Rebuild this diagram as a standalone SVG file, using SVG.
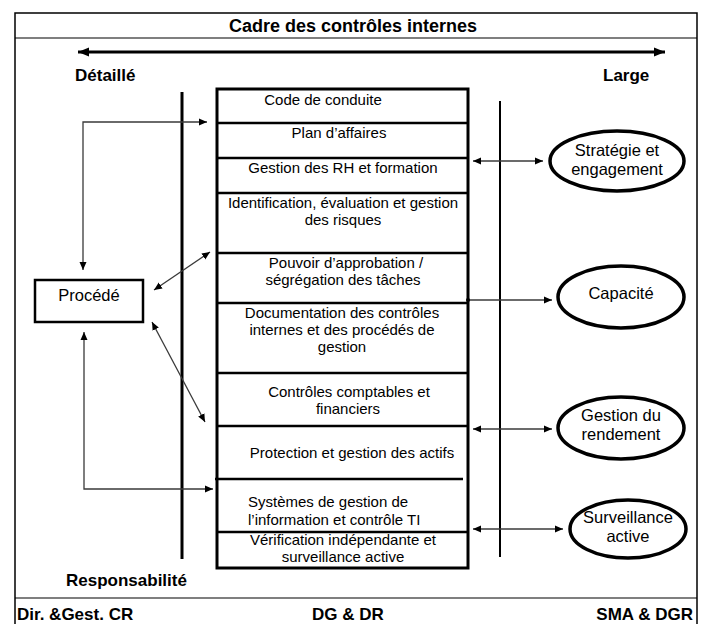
<svg xmlns="http://www.w3.org/2000/svg" width="711" height="624" viewBox="0 0 711 624">
<style>
text{font-family:"Liberation Sans",Arial,sans-serif;fill:#000}
.b{font-weight:bold;font-size:17px}
.t{font-size:15px;text-anchor:middle}
.e{font-size:16.5px;text-anchor:middle}
.sep{stroke:#000;stroke-width:2.5}
.c{fill:none;stroke:#3a3a3a;stroke-width:1.3}
.ell{fill:#fff;stroke:#000;stroke-width:3.5}
</style>
<defs>
<marker id="a" markerUnits="userSpaceOnUse" markerWidth="9" markerHeight="8" refX="8" refY="4" orient="auto-start-reverse"><path d="M0,0.5 L8,4 L0,7.5 Z" fill="#000"/></marker>
<marker id="big" markerUnits="userSpaceOnUse" markerWidth="12" markerHeight="10" refX="11" refY="5" orient="auto-start-reverse"><path d="M0,0.5 L11,5 L0,9.5 Z" fill="#000"/></marker>
<marker id="dot" markerUnits="userSpaceOnUse" markerWidth="6" markerHeight="6" refX="3" refY="3"><circle cx="3" cy="3" r="2" fill="#000"/></marker>
</defs>
<g id="frame">
<path d="M15,624 V13 H697 V624" fill="none" stroke="#000" stroke-width="1.5"/>
<line x1="15" y1="38" x2="697" y2="38" stroke="#000" stroke-width="1.2"/>
<line x1="15" y1="598" x2="697" y2="598" stroke="#000" stroke-width="1.2"/>
<text x="353" y="32" class="b" font-size="18" text-anchor="middle" style="font-size:18px">Cadre des contrôles internes</text>
<line x1="78" y1="52" x2="665" y2="52" stroke="#000" stroke-width="3" marker-start="url(#big)" marker-end="url(#big)"/>
<text x="75" y="81" class="b">Détaillé</text>
<text x="603" y="81" class="b">Large</text>
<text x="66" y="586" class="b">Responsabilité</text>
<text x="17" y="620" class="b">Dir. &amp;Gest. CR</text>
<text x="312" y="620" class="b">DG &amp; DR</text>
<text x="693" y="620" class="b" text-anchor="end">SMA &amp; DGR</text>
<line x1="182" y1="92" x2="182" y2="559" stroke="#000" stroke-width="3"/>
<line x1="500" y1="101" x2="500" y2="557" stroke="#000" stroke-width="2"/>
</g>
<g id="controls">
<rect x="217" y="89" width="251" height="479" fill="none" stroke="#000" stroke-width="3"/>
<line class="sep" x1="217" y1="123" x2="468" y2="123"/>
<line class="sep" x1="217" y1="158" x2="468" y2="158"/>
<line class="sep" x1="217" y1="193" x2="468" y2="193"/>
<line class="sep" x1="217" y1="253" x2="468" y2="253"/>
<line class="sep" x1="217" y1="303" x2="468" y2="303"/>
<line class="sep" x1="217" y1="373" x2="468" y2="373"/>
<line class="sep" x1="217" y1="426" x2="468" y2="426"/>
<line class="sep" x1="215" y1="479" x2="463" y2="479"/>
<line class="sep" x1="217" y1="532" x2="468" y2="532"/>
<text class="t" x="323" y="105">Code de conduite</text>
<text class="t" x="339" y="138">Plan d’affaires</text>
<text class="t" x="343" y="173">Gestion des RH et formation</text>
<text class="t" x="343" y="208">Identification, évaluation et gestion</text>
<text class="t" x="343" y="225">des risques</text>
<text class="t" x="346" y="268">Pouvoir d’approbation /</text>
<text class="t" x="343" y="285">ségrégation des tâches</text>
<text class="t" x="342" y="318">Documentation des contrôles</text>
<text class="t" x="342" y="335">internes et des procédés de</text>
<text class="t" x="342" y="352">gestion</text>
<text class="t" x="349" y="397">Contrôles comptables et</text>
<text class="t" x="348" y="414">financiers</text>
<text class="t" x="352" y="458">Protection et gestion des actifs</text>
<text x="248" y="507" style="font-size:15px">Systèmes de gestion de</text>
<text x="248" y="525" style="font-size:15px">l’information et contrôle TI</text>
<text class="t" x="343" y="545">Vérification indépendante et</text>
<text class="t" x="343" y="562">surveillance active</text>
</g>
<g id="procede">
<rect x="35" y="280" width="108" height="42" fill="#fff" stroke="#000" stroke-width="2.5"/>
<text x="89" y="301" text-anchor="middle" style="font-size:16.5px">Procédé</text>
</g>
<g id="strategie">
<ellipse class="ell" cx="617" cy="161" rx="67" ry="30"/>
<text class="e" x="617" y="156">Stratégie et</text>
<text class="e" x="617" y="175">engagement</text>
</g>
<g id="capacite">
<ellipse class="ell" cx="621" cy="297" rx="63" ry="31"/>
<text class="e" x="621" y="299">Capacité</text>
</g>
<g id="rendement">
<ellipse class="ell" cx="621" cy="428" rx="63" ry="31"/>
<text class="e" x="621" y="421">Gestion du</text>
<text class="e" x="621" y="440">rendement</text>
</g>
<g id="surveillance">
<ellipse class="ell" cx="628" cy="529" rx="58" ry="29"/>
<text class="e" x="628" y="523">Surveillance</text>
<text class="e" x="628" y="542">active</text>
</g>
<g id="connectors">
<polyline class="c" points="83,270 83,122 207,122" marker-start="url(#a)" marker-end="url(#a)"/>
<line class="c" x1="154" y1="290" x2="210" y2="252" marker-start="url(#a)" marker-end="url(#a)"/>
<line class="c" x1="152" y1="322" x2="205" y2="422" marker-start="url(#a)" marker-end="url(#a)"/>
<polyline class="c" points="84,332 84,489 213,489" marker-start="url(#a)" marker-end="url(#a)"/>
<line class="c" x1="473" y1="161" x2="543" y2="161" marker-start="url(#a)" marker-end="url(#a)"/>
<line class="c" x1="468" y1="300" x2="552" y2="300" marker-start="url(#dot)" marker-end="url(#a)"/>
<line class="c" x1="473" y1="429" x2="552" y2="429" marker-start="url(#a)" marker-end="url(#a)"/>
<line class="c" x1="473" y1="529" x2="563" y2="529" marker-start="url(#a)" marker-end="url(#a)"/>
</g>
</svg>
